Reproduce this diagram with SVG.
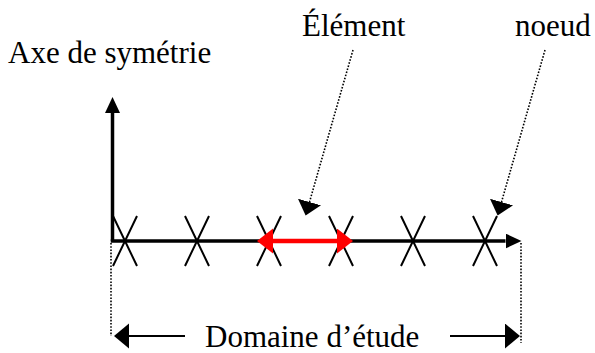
<svg xmlns="http://www.w3.org/2000/svg" width="595" height="353" viewBox="0 0 595 353">
<style>
.t{font-family:"Liberation Serif","Times New Roman",Tinos,"DejaVu Serif",serif;font-size:31px;fill:#000}
.axis{stroke:#000;stroke-width:3.5;fill:none}
.x{stroke:#000;stroke-width:2;fill:none}
.dot{stroke:#000;stroke-width:1.6;stroke-dasharray:1.6 1.6;fill:none}
.dim{stroke:#000;stroke-width:2;fill:none}
.red{stroke:#ff0000;stroke-width:4.5;fill:none}
</style>
<defs>
<marker id="ah" markerUnits="userSpaceOnUse" markerWidth="16" markerHeight="16" refX="0" refY="7.5" orient="auto">
<path d="M0,0 L16,7.5 L0,15 z" fill="#000"/>
</marker>
<marker id="rh" markerUnits="userSpaceOnUse" markerWidth="18" markerHeight="26" refX="0" refY="12.5" orient="auto-start-reverse">
<path d="M0,0 L16,12.5 L0,25 z" fill="#ff0000"/>
</marker>
<marker id="dh" markerUnits="userSpaceOnUse" markerWidth="16" markerHeight="26" refX="0" refY="12.5" orient="auto">
<path d="M0,0 L15,12.5 L0,25 z" fill="#000"/>
</marker>
<marker id="lh" markerUnits="userSpaceOnUse" markerWidth="16" markerHeight="26" refX="0" refY="12" orient="auto">
<path d="M0,0 L14,12 L0,24 z" fill="#000"/>
</marker>
</defs>

<g id="axe-symetrie">
<text class="t" x="8" y="63">Axe de symétrie</text>
</g>
<g id="element-label">
<text class="t" x="302" y="36">Élément</text>
</g>
<g id="noeud-label">
<text class="t" x="515" y="36">noeud</text>
</g>
<g id="domaine-label">
<text class="t" x="205" y="347">Domaine d’étude</text>
</g>

<g id="nodes">
<g id="n1"><path class="x" d="M113,216 L137,266 M137,216 L113,266"/></g>
<g id="n2"><path class="x" d="M185,216 L209,266 M209,216 L185,266"/></g>
<g id="n3"><path class="x" d="M257,216 L281,266 M281,216 L257,266"/></g>
<g id="n4"><path class="x" d="M329,216 L353,266 M353,216 L329,266"/></g>
<g id="n5"><path class="x" d="M401,216 L425,266 M425,216 L401,266"/></g>
<g id="n6"><path class="x" d="M473,216 L497,266 M497,216 L473,266"/></g>
</g>

<g id="connectors">
<path class="axis" d="M112.5,241 L112.5,113" marker-end="url(#ah)"/>
<path class="axis" d="M110.75,241 L505.5,241" marker-end="url(#ah)"/>
<path class="red" d="M273,241 L337,241" marker-start="url(#rh)" marker-end="url(#rh)"/>
<path class="dot" d="M353,50 L309.5,202" marker-end="url(#lh)"/>
<path class="dot" d="M545,50 L501.5,202" marker-end="url(#lh)"/>
<path class="dot" d="M111,243 L111,336"/>
<path class="dot" d="M521,243 L521,343"/>
<path class="dim" d="M185,336 L129,336" marker-end="url(#dh)"/>
<path class="dim" d="M450,336 L505,336" marker-end="url(#dh)"/>
</g>
</svg>
